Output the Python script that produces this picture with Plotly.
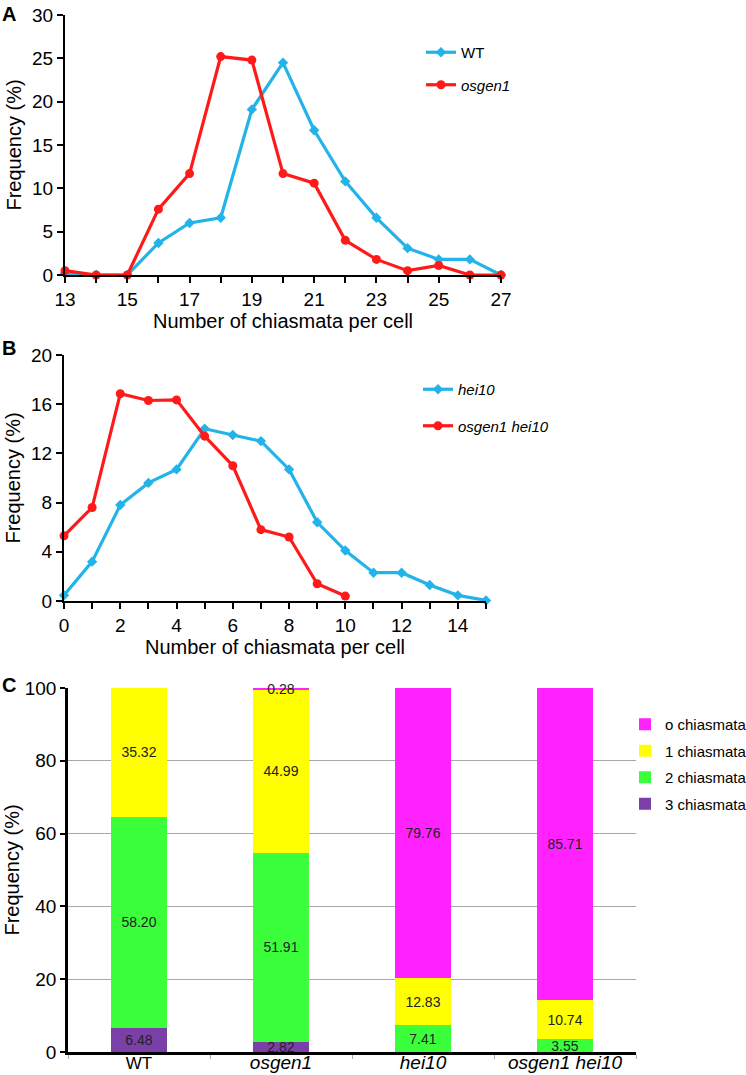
import plotly.graph_objects as go

W, H = 746, 1075
FONT = "Liberation Sans, Arial, sans-serif"

# ---------------- Data ----------------
# Panel A
a_x = list(range(13, 28))
a_wt = [0.2, 0.0, 0.0, 3.7, 6.0, 6.6, 19.1, 24.5, 16.7, 10.8, 6.6, 3.1, 1.8, 1.8, 0.0]
a_osgen1 = [0.5, 0.0, 0.0, 7.6, 11.7, 25.2, 24.8, 11.7, 10.6, 4.0, 1.8, 0.5, 1.1, 0.0, 0.0]

# Panel B
b_x_hei10 = list(range(0, 16))
b_hei10 = [0.46, 3.2, 7.8, 9.6, 10.7, 14.0, 13.5, 13.0, 10.7, 6.4, 4.1, 2.3, 2.3, 1.3, 0.46, 0.05]
b_x_dbl = list(range(0, 11))
b_dbl = [5.3, 7.6, 16.85, 16.3, 16.35, 13.4, 11.0, 5.8, 5.2, 1.4, 0.4]

# Panel C
c_cats = ["WT", "osgen1", "hei10", "osgen1 hei10"]
c_ticktext = ["WT",
              "<span style='font-size:19px'><i>osgen1</i></span>",
              "<span style='font-size:19px'><i>hei10</i></span>",
              "<span style='font-size:19px'><i>osgen1 hei10</i></span>"]
c_series = ["3 chiasmata", "2 chiasmata", "1 chiasmata", "o chiasmata"]
c_vals = {
    "3 chiasmata": [6.48, 2.82, 0.0, 0.0],
    "2 chiasmata": [58.20, 51.91, 7.41, 3.55],
    "1 chiasmata": [35.32, 44.99, 12.83, 10.74],
    "o chiasmata": [0.0, 0.28, 79.76, 85.71],
}
c_colors = {
    "3 chiasmata": "#7B3FA8",
    "2 chiasmata": "#3CFF3C",
    "1 chiasmata": "#FFFF00",
    "o chiasmata": "#FF22FF",
}
c_rank = {"o chiasmata": 1, "1 chiasmata": 2, "2 chiasmata": 3, "3 chiasmata": 4}

BLUE = "#22B4E8"
RED = "#FF1A1A"

def xd(x0, x1):
    return [x0 / W, x1 / W]

def yd(top, bottom):
    return [1 - bottom / H, 1 - top / H]

fig = go.Figure()

# Panel A lines
fig.add_trace(go.Scatter(x=a_x, y=a_wt, name="WT", mode="lines+markers",
                         line=dict(color=BLUE, width=3.2),
                         marker=dict(symbol="diamond", size=8, color=BLUE),
                         xaxis="x", yaxis="y", legend="legend", legendgroup="a1",
                         cliponaxis=False))
fig.add_trace(go.Scatter(x=a_x, y=a_osgen1, name="<i>osgen1</i>", mode="lines+markers",
                         line=dict(color=RED, width=3.2),
                         marker=dict(symbol="circle", size=9, color=RED),
                         xaxis="x", yaxis="y", legend="legend", legendgroup="a2",
                         cliponaxis=False))

# Panel B lines
fig.add_trace(go.Scatter(x=b_x_hei10, y=b_hei10, name="<i>hei10</i>", mode="lines+markers",
                         line=dict(color=BLUE, width=3.2),
                         marker=dict(symbol="diamond", size=8, color=BLUE),
                         xaxis="x2", yaxis="y2", legend="legend2", legendgroup="b1",
                         cliponaxis=False))
fig.add_trace(go.Scatter(x=b_x_dbl, y=b_dbl, name="<i>osgen1 hei10</i>", mode="lines+markers",
                         line=dict(color=RED, width=3.2),
                         marker=dict(symbol="circle", size=9, color=RED),
                         xaxis="x2", yaxis="y2", legend="legend2", legendgroup="b2",
                         cliponaxis=False))

# Panel C stacked bars
for s in c_series:
    vals = c_vals[s]
    txt = ["%.2f" % v if v > 0 else "" for v in vals]
    fig.add_trace(go.Bar(x=c_cats, y=vals, name=s, marker=dict(color=c_colors[s], line=dict(width=0)),
                         text=txt, textposition="inside", insidetextanchor="middle",
                         textfont=dict(family=FONT, size=14, color="#222222"),
                         width=0.4, xaxis="x3", yaxis="y3", legend="legend3",
                         legendgroup=s, legendrank=c_rank[s], cliponaxis=False, hoverinfo="skip"))

tickfont = dict(family=FONT, size=19, color="black")
titlefont = dict(family=FONT, size=20, color="black")

common_line = dict(showline=True, linecolor="black", linewidth=2.2, ticks="outside",
                   tickcolor="black", tickwidth=2, ticklen=6, showgrid=False, zeroline=False,
                   tickfont=tickfont, automargin=False)

fig.update_layout(
    template="none",
    width=W, height=H,
    margin=dict(l=0, r=0, t=0, b=0, autoexpand=False),
    paper_bgcolor="white", plot_bgcolor="white",
    barmode="stack",
    font=dict(family=FONT, color="black"),
    uniformtext=dict(mode="show", minsize=14),
    xaxis=dict(domain=xd(65, 501), range=[13, 27], anchor="y", tick0=13, dtick=2,
               minor=dict(dtick=1, ticks="outside", ticklen=6, tickwidth=2, tickcolor="black"),
               title=dict(text="Number of chiasmata per cell", font=titlefont, standoff=0),
               **common_line),
    yaxis=dict(domain=yd(15, 275), range=[0, 30], anchor="x", dtick=5,
               title=dict(text="Frequency (%)", font=titlefont, standoff=5),
               **common_line),
    xaxis2=dict(domain=xd(64, 486), range=[0, 15], anchor="y2", tick0=0, dtick=2,
                minor=dict(dtick=1, ticks="outside", ticklen=6, tickwidth=2, tickcolor="black"),
                title=dict(text="Number of chiasmata per cell", font=titlefont, standoff=0),
                **common_line),
    yaxis2=dict(domain=yd(355, 601), range=[0, 20], anchor="x2", dtick=4,
                title=dict(text="Frequency (%)", font=titlefont, standoff=5),
                **common_line),
    xaxis3=dict(domain=xd(68, 636), anchor="y3", type="category",
                tickvals=c_cats, ticktext=c_ticktext, tickson="boundaries",
                showline=True, linecolor="black", linewidth=2.5, ticks="outside",
                tickcolor="#AAAAAA", tickwidth=1, ticklen=4, showgrid=False, zeroline=False,
                ticklabelstandoff=-6,
                tickfont=dict(family=FONT, size=17, color="black"), automargin=False),
    yaxis3=dict(domain=yd(688, 1052), range=[0, 100], anchor="x3", dtick=20,
                showline=True, linecolor="black", linewidth=2.5, ticks="outside",
                tickcolor="black", tickwidth=2, ticklen=5, showgrid=True,
                gridcolor="#A8A8A8", gridwidth=1, zeroline=False, tickfont=tickfont,
                automargin=False,
                title=dict(text="Frequency (%)", font=titlefont, standoff=0)),
    legend=dict(x=421 / W, y=1 - 36 / H, xanchor="left", yanchor="top",
                bgcolor="rgba(0,0,0,0)", font=dict(family=FONT, size=15, color="black"),
                traceorder="grouped", tracegroupgap=10, itemwidth=30),
    legend2=dict(x=418 / W, y=1 - 373 / H, xanchor="left", yanchor="top",
                 bgcolor="rgba(0,0,0,0)", font=dict(family=FONT, size=15, color="black"),
                 traceorder="grouped", tracegroupgap=14, itemwidth=30),
    legend3=dict(x=625 / W, y=1 - 708 / H, xanchor="left", yanchor="top",
                 bgcolor="rgba(0,0,0,0)", font=dict(family=FONT, size=15, color="black"),
                 traceorder="grouped", tracegroupgap=4, itemwidth=30),
    showlegend=True,
)

# Panel letters
for letter, ytop in [("A", 1), ("B", 335), ("C", 672)]:
    fig.add_annotation(text="<b>%s</b>" % letter, x=0, y=1 - ytop / H, xref="paper", yref="paper",
                       xanchor="left", yanchor="top", showarrow=False,
                       font=dict(family=FONT, size=20, color="black"))

fig.write_html("out.html", config={"displayModeBar": False},
               post_script="document.body.style.margin='0';document.body.style.padding='0';")
